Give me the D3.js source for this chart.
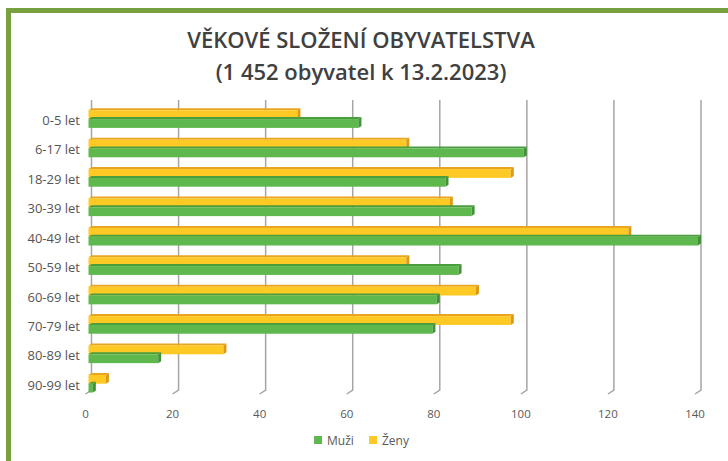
<!DOCTYPE html>
<html>
<head>
<meta charset="utf-8">
<script src="https://cdn.jsdelivr.net/npm/d3@7"></script>
<style>
  body { margin: 0; background: #fff; }
  text { font-family: 'Open Sans', sans-serif; }
</style>
</head>
<body>
<div id="chart"></div>
<script>
// Data.
var categories = ['0-5 let', '6-17 let', '18-29 let', '30-39 let', '40-49 let',
                  '50-59 let', '60-69 let', '70-79 let', '80-89 let', '90-99 let'];
var zeny = [48, 73, 97, 83, 124, 73, 89, 97, 31, 4];
var muzi = [62, 100, 82, 88, 140, 85, 80, 79, 16, 1];
var series = ['Ženy', 'Muži'];
var xTicks = [0, 20, 40, 60, 80, 100, 120, 140];

var width = 728, height = 461;
var colors = {
    'Ženy': {front: '#ffc925', top: '#e9a51f', side: '#dc9a17'},
    'Muži': {front: '#5fb84e', top: '#4a9d3c', side: '#43923a'}
};

var svg = d3.select('#chart')
    .append('svg')
        .attr('width', width)
        .attr('height', height);

// Green frame (top and left edge).
svg.append('rect').attr('x', 6).attr('y', 8).attr('width', width - 6).attr('height', 5).attr('fill', '#77a13f');
svg.append('rect').attr('x', 6).attr('y', 8).attr('width', 5).attr('height', height - 8).attr('fill', '#77a13f');

// Title.
svg.append('text')
    .attr('x', 361).attr('y', 48)
    .attr('text-anchor', 'middle')
    .attr('font-size', '22px')
    .attr('font-weight', 600)
    .attr('fill', '#404040')
    .text('VĚKOVÉ SLOŽENÍ OBYVATELSTVA');
svg.append('text')
    .attr('x', 361).attr('y', 80)
    .attr('text-anchor', 'middle')
    .attr('font-size', '22px')
    .attr('font-weight', 600)
    .attr('fill', '#404040')
    .text('(1 452 obyvatel k 13.2.2023)');

// Scales.
var x = d3.scaleLinear()
    .domain([0, 140])
    .range([91.5, 701]);

var y = d3.scaleBand()
    .domain(categories)
    .range([98.5, 404.3])
    .padding(0.4);

var ySub = d3.scaleBand()
    .domain(series)
    .range([0, y.bandwidth()]);

var gridTop = 100, gridBottom = 390;

// Gridlines with a small 3D foot.
var grid = svg.append('g').attr('class', 'grid');
grid.selectAll('path')
    .data(xTicks)
    .enter().append('path')
        .attr('d', function(d){
            return 'M' + x(d) + ',' + gridTop + 'V' + gridBottom + 'L' + (x(d) - 6) + ',' + (gridBottom + 4);
        })
        .attr('fill', 'none')
        .attr('stroke', '#a9a4a4')
        .attr('stroke-width', 1.5);

// Tick labels.
grid.selectAll('text')
    .data(xTicks)
    .enter().append('text')
        .attr('x', function(d){ return x(d) - 6; })
        .attr('y', 418)
        .attr('text-anchor', 'middle')
        .attr('font-size', '11.5px')
        .attr('fill', '#595959')
        .text(function(d){ return d; });

// Category labels.
svg.append('g').selectAll('text')
    .data(categories)
    .enter().append('text')
        .attr('x', 80)
        .attr('y', function(d){ return y(d) + y.bandwidth() / 2 + 6; })
        .attr('text-anchor', 'end')
        .attr('font-size', '13px')
        .attr('fill', '#555555')
        .text(function(d){ return d; });

// Bars, drawn as front face plus top and end faces.
var dx = -3, depth = 3;
var rows = [];
categories.forEach(function(c, i){
    rows.push({cat: c, s: 'Ženy', v: zeny[i]});
    rows.push({cat: c, s: 'Muži', v: muzi[i]});
});

var bars = svg.append('g').attr('class', 'bars');
var bar = bars.selectAll('g')
    .data(rows)
    .enter().append('g');

bar.append('path')
    .attr('d', function(d){
        var x0 = x(0) + dx, x1 = x(d.v) + dx, t = y(d.cat) + ySub(d.s);
        return 'M' + x0 + ',' + t + 'L' + (x0 + depth) + ',' + (t - 2) + 'L' + (x1 + depth) + ',' + (t - 2) + 'L' + x1 + ',' + t + 'Z';
    })
    .attr('fill', function(d){ return colors[d.s].top; });

bar.append('rect')
    .attr('x', x(0) + dx)
    .attr('y', function(d){ return y(d.cat) + ySub(d.s); })
    .attr('width', function(d){ return x(d.v) - x(0); })
    .attr('height', ySub.bandwidth())
    .attr('fill', function(d){ return colors[d.s].front; });

bar.append('path')
    .attr('d', function(d){
        var x1 = x(d.v) + dx, t = y(d.cat) + ySub(d.s), b = t + ySub.bandwidth();
        return 'M' + x1 + ',' + t + 'L' + (x1 + depth) + ',' + (t - 2) + 'L' + (x1 + depth) + ',' + (b - 2) + 'L' + x1 + ',' + b + 'Z';
    })
    .attr('fill', function(d){ return colors[d.s].side; });

// Legend.
var legend = svg.append('g').attr('class', 'legend');
var legendItems = [{s: 'Muži', x: 314}, {s: 'Ženy', x: 369}];
legendItems.forEach(function(item){
    legend.append('rect')
        .attr('x', item.x).attr('y', 436)
        .attr('width', 8).attr('height', 8)
        .attr('fill', colors[item.s].front);
    legend.append('text')
        .attr('x', item.x + 13).attr('y', 445)
        .attr('font-size', '12px')
        .attr('fill', '#595959')
        .text(item.s);
});
</script>
</body>
</html>
